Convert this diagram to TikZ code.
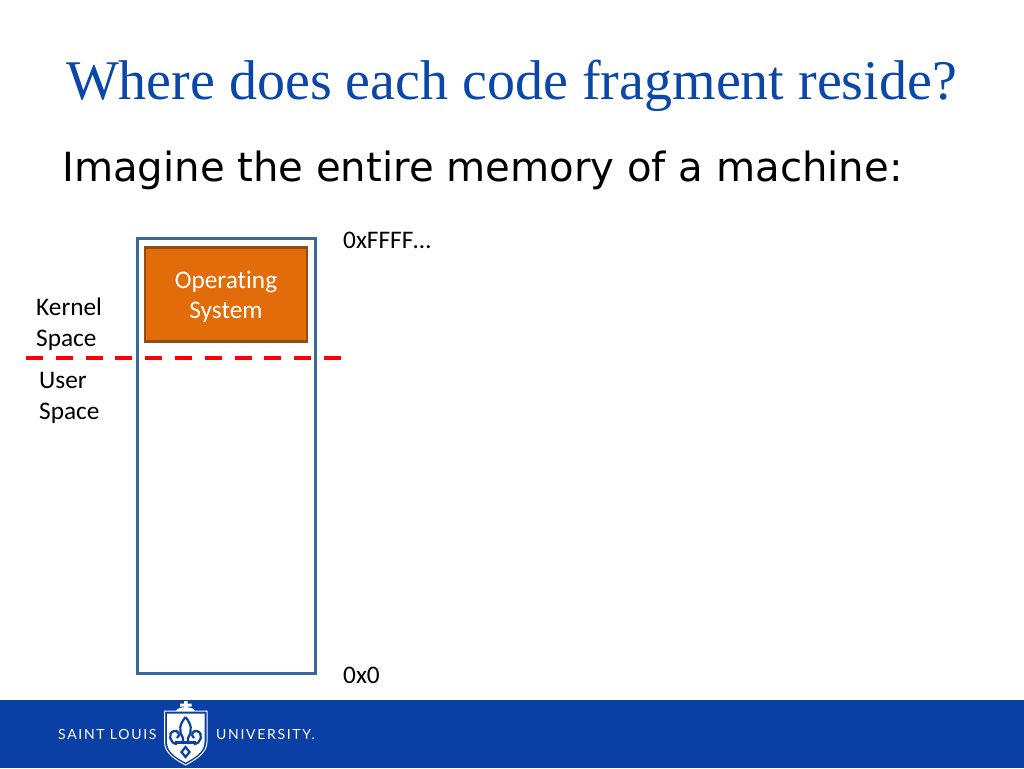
\documentclass[tikz,border=0pt]{standalone}
\usepackage{fontspec}
\setmainfont[Ligatures=NoCommon]{Carlito}
\newfontfamily\titlefont{Liberation Serif}
\newfontfamily\bodyfont{DejaVu Sans}
\newfontfamily\logofont{Lato}
\definecolor{slublue}{HTML}{0A3FA6}
\definecolor{titleblue}{HTML}{0B47A8}
\definecolor{memline}{HTML}{3B6A9A}
\definecolor{osfill}{HTML}{E36C0A}
\definecolor{osline}{HTML}{8F4F14}
\begin{document}
\begin{tikzpicture}[x=1pt,y=-1pt]
	\tikzstyle{label} = [font=\fontsize{25.3}{25.3}\selectfont, text=black, inner sep=0pt, anchor=base west]
	\tikzstyle{memory} = [draw=memline, line width=2.6pt, minimum width=178pt, minimum height=435pt, inner sep=0pt]
	\tikzstyle{os} = [draw=osline, fill=osfill, line width=2.2pt, minimum width=162pt, minimum height=94pt, inner sep=0pt]
	\tikzstyle{ostext} = [inner sep=0pt, align=center, text=white, font=\fontsize{25.3}{30}\selectfont]
	\tikzstyle{logo} = [font=\logofont\fontsize{14}{14}\selectfont, text=white, inner sep=0pt, anchor=base west]
	\tikzstyle{fleur} = [slublue, line width=2.2pt]
	\useasboundingbox (0,0) rectangle (1024,768);
	
	\fill[slublue] (0,700) rectangle (1024,768);
	
	\node[font=\titlefont\fontsize{56}{56}\selectfont, text=titleblue, inner sep=0pt, anchor=base](title) at (511.5,99) {Where does each code fragment reside?};
	\node[font=\bodyfont\fontsize{40.2}{40.2}\selectfont, text=black, inner sep=0pt, anchor=base west](intro) at (62,181) {Imagine the entire memory of a machine:};
	
	\node[memory](memory) at (226.5,456) {};
	\node[os](os) at (226,294.5) {};
	\node[ostext](ostext) at (226,297) {Operating\\System};
	
	\node[label](top) at (343,248) {0xFFFF…};
	\node[label](bottom) at (343,683) {0x0};
	\node[label](kernel1) at (36,315) {Kernel};
	\node[label](kernel2) at (36,346) {Space};
	\node[label](user1) at (39,388) {User};
	\node[label](user2) at (39,419) {Space};
	
	\coordinate (splitl) at (26,358);
	\coordinate (splitr) at (342,358);
	\draw[red, line width=4pt, dash pattern=on 17pt off 12.8pt](splitl) to (splitr);
	
	% logo
	\node[logo](saint) at (58,739) {\addfontfeature{LetterSpace=12}SAINT LOUIS};
	\node[logo](univ) at (216,739) {\addfontfeature{LetterSpace=12}UNIVERSITY.};
	\fill[white] (184,701) rectangle (187.5,709) (180,703.5) rectangle (191.5,706.5);
	\fill[white] (176,711) .. controls (177,706) and (194,706) .. (195,711) -- cycle;
	\draw[white, fill=slublue, line width=1pt] (164.5,711) -- (207,711) -- (207,742) .. controls (207,753) and (195,760) .. (185.5,765) .. controls (176,760) and (164.5,753) .. (164.5,742) -- cycle;
	\fill[white] (167,713.5) -- (204.5,713.5) -- (204.5,742) .. controls (204.5,752) and (194,758) .. (185.5,762.5) .. controls (177,758) and (167,752) .. (167,742) -- cycle;
	\draw[fleur] (177,744) .. controls (170,744) and (167,733) .. (174,731) .. controls (178,730) and (181,735) .. (177,738);
	\draw[fleur] (194,744) .. controls (201,744) and (204,733) .. (197,731) .. controls (193,730) and (190,735) .. (194,738);
	\draw[fleur] (185.5,717) .. controls (180,724) and (178,730) .. (183,738) -- (183,744) (185.5,717) .. controls (191,724) and (193,730) .. (188,738) -- (188,744);
	\draw[fleur] (175,742.5) -- (196,742.5);
	\draw[fleur] (185.5,747) -- (189.5,752) -- (185.5,757) -- (181.5,752) -- cycle;
\end{tikzpicture}
\end{document}
